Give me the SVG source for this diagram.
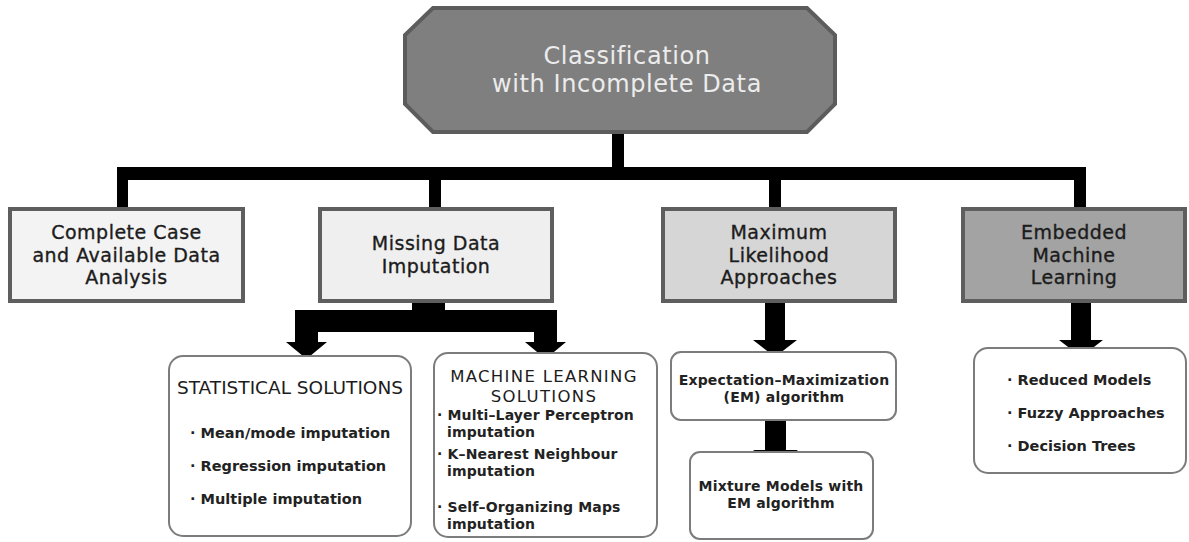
<svg xmlns="http://www.w3.org/2000/svg" width="1189" height="542" viewBox="0 0 1189 542">
<style>
.t1{font-family:"DejaVu Sans",sans-serif;font-size:24px;letter-spacing:0.6px;fill:#ececec;text-anchor:middle}
.t2{font-family:"DejaVu Sans",sans-serif;font-size:19px;letter-spacing:0.5px;fill:#1c1c1c;stroke:#1c1c1c;stroke-width:0.35;text-anchor:middle}
.hd{font-family:"DejaVu Sans",sans-serif;font-size:18.5px;fill:#1c1c1c;text-anchor:middle}
.hd2{font-family:"DejaVu Sans",sans-serif;font-size:16.5px;letter-spacing:1.3px;fill:#1c1c1c;text-anchor:middle}
.it{font-family:"DejaVu Sans",sans-serif;font-weight:bold;font-size:14.5px;fill:#222}
.it2{font-family:"DejaVu Sans",sans-serif;font-weight:bold;font-size:14px;letter-spacing:0.15px;fill:#222}
.itc{font-family:"DejaVu Sans",sans-serif;font-weight:bold;font-size:14px;letter-spacing:0.2px;fill:#222;text-anchor:middle}
.b2{stroke:#5e5e5e;stroke-width:4}
.rb{fill:#fff;stroke:#7c7c7c;stroke-width:2}
.k{fill:#000}
</style>
<rect width="1189" height="542" fill="#fff"/>
<g id="connectors">
  <rect class="k" x="612" y="130" width="12" height="45"/>
  <rect class="k" x="117" y="167" width="969" height="13"/>
  <rect class="k" x="117" y="167" width="11" height="41"/>
  <rect class="k" x="429" y="167" width="12" height="41"/>
  <rect class="k" x="769" y="167" width="12" height="41"/>
  <rect class="k" x="1074" y="167" width="12" height="41"/>
  <rect class="k" x="412" y="302" width="33" height="10"/>
  <rect class="k" x="295" y="310" width="262" height="22"/>
  <rect class="k" x="295" y="310" width="23" height="33"/>
  <polygon class="k" points="286,342 327,342 306.5,359"/>
  <rect class="k" x="534" y="310" width="23" height="33"/>
  <polygon class="k" points="525,342 566,342 545.5,359"/>
  <rect class="k" x="765" y="302" width="20" height="39"/>
  <polygon class="k" points="753,340 797,340 775,357"/>
  <rect class="k" x="765" y="419" width="21" height="32"/>
  <polygon class="k" points="753,450 798,450 775.5,466"/>
  <rect class="k" x="1071" y="302" width="20" height="39"/>
  <polygon class="k" points="1059,340 1103,340 1081,357"/>
</g>
<g id="root">
  <polygon points="433,8 807,8 835,35 835,104 807,132 433,132 405,104 405,35" fill="#7f7f7f" stroke="#5c5c5c" stroke-width="4"/>
  <text class="t1" x="627" y="64">Classification</text>
  <text class="t1" x="627" y="92">with Incomplete Data</text>
</g>
<g id="complete-case">
  <rect class="b2" x="10" y="209" width="233" height="92" fill="#f3f3f3"/>
  <text class="t2" x="126.5" y="239">Complete Case</text>
  <text class="t2" x="126.5" y="261.5">and Available Data</text>
  <text class="t2" x="126.5" y="284">Analysis</text>
</g>
<g id="missing-data">
  <rect class="b2" x="320" y="209" width="232" height="92" fill="#efefef"/>
  <text class="t2" x="436" y="250">Missing Data</text>
  <text class="t2" x="436" y="272.5">Imputation</text>
</g>
<g id="max-likelihood">
  <rect class="b2" x="663" y="209" width="232" height="92" fill="#d6d6d6"/>
  <text class="t2" x="779" y="239">Maximum</text>
  <text class="t2" x="779" y="261.5">Likelihood</text>
  <text class="t2" x="779" y="284">Approaches</text>
</g>
<g id="embedded">
  <rect class="b2" x="963" y="209" width="222" height="92" fill="#a3a3a3"/>
  <text class="t2" x="1074" y="239">Embedded</text>
  <text class="t2" x="1074" y="261.5">Machine</text>
  <text class="t2" x="1074" y="284">Learning</text>
</g>
<g id="statistical">
  <rect class="rb" x="169" y="356" width="242" height="180" rx="14"/>
  <text class="hd" x="290" y="394">STATISTICAL SOLUTIONS</text>
  <text class="it" x="190" y="438">· Mean/mode imputation</text>
  <text class="it" x="190" y="471">· Regression imputation</text>
  <text class="it" x="190" y="504">· Multiple imputation</text>
</g>
<g id="ml-solutions">
  <rect class="rb" x="434" y="353" width="223" height="184" rx="14"/>
  <text class="hd2" x="544" y="382">MACHINE LEARNING</text>
  <text class="hd2" x="544" y="401.5">SOLUTIONS</text>
  <text class="it2" x="437" y="420">· Multi–Layer Perceptron</text>
  <text class="it2" x="447" y="436.5">imputation</text>
  <text class="it2" x="437" y="459">· K–Nearest Neighbour</text>
  <text class="it2" x="447" y="475.5">imputation</text>
  <text class="it2" x="437" y="512">· Self–Organizing Maps</text>
  <text class="it2" x="447" y="528.5">imputation</text>
</g>
<g id="em">
  <rect class="rb" x="671" y="352" width="225" height="68" rx="10"/>
  <text class="itc" x="784" y="385">Expectation–Maximization</text>
  <text class="itc" x="784" y="401.5">(EM) algorithm</text>
</g>
<g id="mixture">
  <rect class="rb" x="690" y="452" width="183" height="87" rx="10"/>
  <text class="itc" x="781" y="491">Mixture Models with</text>
  <text class="itc" x="781" y="507.5">EM algorithm</text>
</g>
<g id="embedded-items">
  <rect class="rb" x="974" y="348" width="212" height="125" rx="14"/>
  <text class="it" x="1007" y="385">· Reduced Models</text>
  <text class="it" x="1007" y="418">· Fuzzy Approaches</text>
  <text class="it" x="1007" y="451">· Decision Trees</text>
</g>
</svg>
